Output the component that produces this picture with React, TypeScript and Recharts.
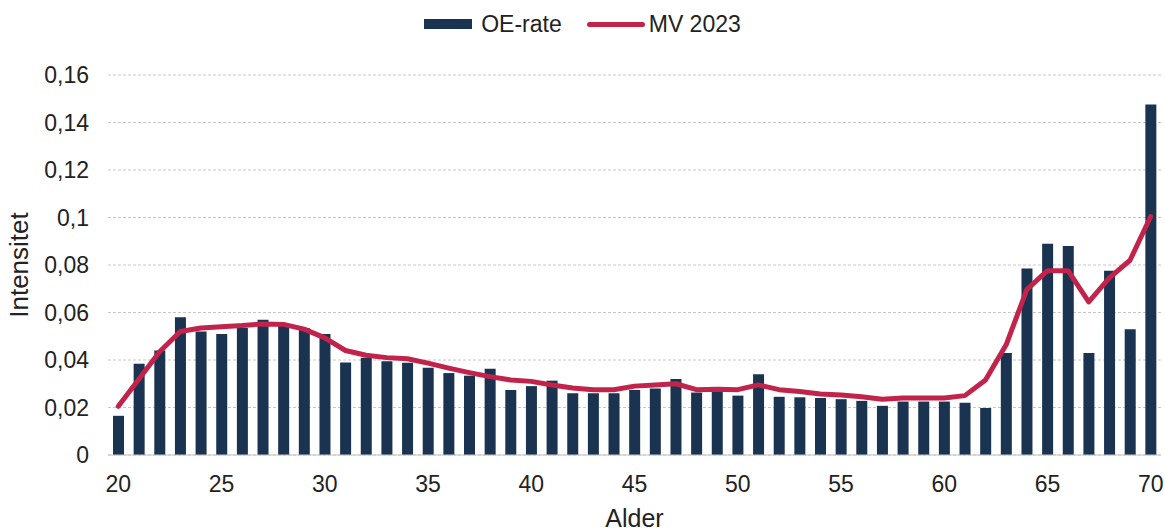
import React from 'react';
import { ComposedChart, Bar, Line, XAxis, YAxis, CartesianGrid, Legend } from 'recharts';

const ages = [20,21,22,23,24,25,26,27,28,29,30,31,32,33,34,35,36,37,38,39,40,41,42,43,44,45,46,47,48,49,50,51,52,53,54,55,56,57,58,59,60,61,62,63,64,65,66,67,68,69,70];
const oeRate = [0.0165,0.0384,0.044,0.058,0.052,0.051,0.0535,0.057,0.055,0.0535,
  0.051,0.039,0.041,0.0395,0.0388,0.0367,0.0345,0.0334,0.0363,0.0274,
  0.029,0.0313,0.026,0.026,0.026,0.0274,0.028,0.032,0.0263,0.0266,
  0.025,0.034,0.0245,0.0243,0.024,0.0235,0.0228,0.0207,0.0225,0.0225,
  0.0225,0.022,0.0198,0.043,0.0785,0.089,0.088,0.043,0.0776,0.053,0.1476];
const mv2023 = [0.0205,0.032,0.0435,0.052,0.0535,0.054,0.0545,0.0552,0.055,0.053,
  0.0493,0.044,0.042,0.041,0.0405,0.0387,0.0366,0.0347,0.033,0.0316,
  0.031,0.0295,0.0282,0.0275,0.0275,0.029,0.0295,0.030,0.0275,0.0277,
  0.0275,0.0295,0.0275,0.0267,0.0257,0.0253,0.0245,0.0235,0.024,0.024,
  0.024,0.025,0.0316,0.0464,0.0696,0.0776,0.0776,0.0645,0.0746,0.082,0.1004];
const yTicks = [0,0.02,0.04,0.06,0.08,0.1,0.12,0.14,0.16];

const BAR_COLOR = '#1a3350';
const LINE_COLOR = '#c2234b';
const FONT = '"Liberation Sans", Arial, sans-serif';
const LEGEND_H = 26;

const data = ages.map((a, i) => ({ age: a, oe: oeRate[i], mv: mv2023[i] }));

const fmtY = (v: number) => (v === 0 ? '0' : String(Number(v.toFixed(2))).replace('.', ','));

const LegendContent = () => (
  <div style={{ display: 'flex', justifyContent: 'center', alignItems: 'center', height: LEGEND_H, lineHeight: LEGEND_H + 'px', fontFamily: FONT, fontSize: 23, color: '#222' }}>
    <span style={{ display: 'inline-block', width: 48, height: 10, background: BAR_COLOR, marginRight: 9 }} />
    <span style={{ marginRight: 25 }}>OE-rate</span>
    <span style={{ display: 'inline-block', width: 58, height: 5, borderRadius: 3, background: LINE_COLOR, marginRight: 4 }} />
    <span>MV 2023</span>
  </div>
);

export default function App() {
  return (
    <div style={{ position: 'absolute', left: 0, top: 0, background: '#fff' }}>
      <ComposedChart width={1165} height={532} data={data} margin={{ top: 75 - LEGEND_H, right: 4, bottom: 0, left: 0 }} barCategoryGap={0}>
        <CartesianGrid vertical={false} stroke="#c8c8c8" strokeDasharray="3 2" />
        <XAxis
          dataKey="age"
          interval={0}
          tickLine={false}
          axisLine={{ stroke: '#c4c4c4' }}
          tickFormatter={(v: number) => (v % 5 === 0 ? String(v) : '')}
          tick={{ fontFamily: FONT, fontSize: 23, fill: '#222' }}
          tickMargin={15}
          height={77}
          label={{ value: 'Alder', position: 'insideBottom', offset: 5, style: { fontFamily: FONT, fontSize: 25, fill: '#222' } }}
        />
        <YAxis
          domain={[0, 0.16]}
          ticks={yTicks}
          tickFormatter={fmtY}
          tickLine={false}
          axisLine={false}
          width={108}
          tickMargin={13}
          tick={{ fontFamily: FONT, fontSize: 23, fill: '#222' }}
          label={{ value: 'Intensitet', angle: -90, position: 'insideLeft', offset: 19, style: { fontFamily: FONT, fontSize: 26, fill: '#222', textAnchor: 'middle' } }}
        />
        <Legend verticalAlign="top" align="center" height={LEGEND_H} content={LegendContent} wrapperStyle={{ top: 11, left: 0, width: 1165 }} />
        <Bar dataKey="oe" name="OE-rate" fill={BAR_COLOR} barSize={11} isAnimationActive={false} />
        <Line dataKey="mv" name="MV 2023" type="linear" stroke={LINE_COLOR} strokeWidth={5} dot={false} strokeLinejoin="round" strokeLinecap="round" isAnimationActive={false} />
      </ComposedChart>
    </div>
  );
}
